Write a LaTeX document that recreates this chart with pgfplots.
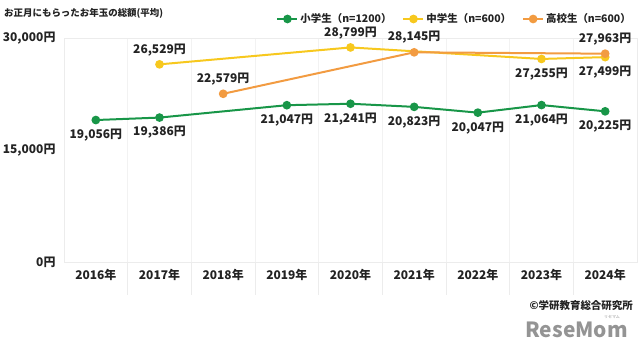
\documentclass[border=0pt]{standalone}
\usepackage{fontspec}
\setmainfont{Noto Sans CJK JP}
\usepackage{pgfplots}
\usepackage{pgfplotstable}
\pgfplotsset{compat=1.18}
\definecolor{cgreen}{RGB}{24,150,72}
\definecolor{cyellow}{RGB}{247,200,30}
\definecolor{corange}{RGB}{242,155,65}
\definecolor{ctext}{RGB}{35,35,35}
\definecolor{csep}{RGB}{236,236,236}

\pgfplotstableread{
x y
0 19056
1 19386
3 21047
4 21241
5 20823
6 20047
7 21064
8 20225
}\elem
\pgfplotstableread{
x y
1 26529
4 28799
7 27255
8 27499
}\middle
\pgfplotstableread{
x y
2 22579
5 28145
8 27963
}\high

\pgfplotsset{
  lbl/.style={
    nodes near coords={\pgfmathprintnumber[fixed,precision=0,1000 sep={,},assume math mode=true]{\pgfplotspointmeta}円},
    nodes near coords style={anchor=center, yshift=#1, text=ctext, font=\fontsize{12}{14}\selectfont\bfseries},
  },
}

\begin{document}
\begin{tikzpicture}
\useasboundingbox (0bp,0bp) rectangle (640bp,352bp);
\node[anchor=west, inner sep=0, text=ctext, font=\fontsize{9.5}{11}\selectfont\bfseries] at (4bp,339bp) {お正月にもらったお年玉の総額(平均)};
\begin{axis}[
  at={(64bp,90bp)}, anchor=south west,
  scale only axis, width=573bp, height=223.5bp,
  xmin=-0.5, xmax=8.5, ymin=0, ymax=30000,
  scaled y ticks=false,
  clip=false,
  axis line style={draw=csep},
  xtick={0,...,8},
  xticklabels={2016年,2017年,2018年,2019年,2020年,2021年,2022年,2023年,2024年},
  xtick pos=lower, ytick pos=left,
  major tick length=0pt,
  minor xtick={0.5,1.5,...,7.5},
  minor tick length=33bp,
  tick align=outside,
  minor x tick style={draw=csep, line width=1bp},
  xminorgrids, minor x grid style={draw=csep!70, line width=0.8bp},
  ytick={0,15000,30000},
  yticklabels={{0円},{15,000円},{30,000円}},
  ticklabel style={text=ctext, font=\fontsize{12}{14}\selectfont\bfseries},
  xticklabel style={yshift=-4bp},
  yticklabel style={xshift=-5bp},
  legend columns=3,
  legend style={draw=none, fill=none, inner sep=0pt, at={(1,1)}, anchor=east, xshift=-4bp, yshift=19.5bp,
    font=\fontsize{10.5}{12}\selectfont\bfseries, text=ctext,
    /tikz/every even column/.append style={column sep=9bp}},
  legend image code/.code={\draw[mark repeat=2,mark phase=2,#1] plot coordinates {(0bp,0bp) (10bp,0bp) (20bp,0bp)};},
  every axis plot/.append style={line width=2bp},
]
\addplot[color=cgreen, mark=*, mark size=3.3bp, mark options={solid, fill=cgreen, draw=cgreen}, point meta=y, lbl=-15bp] table[x=x, y=y] {\elem};
\addlegendentry{小学生（n=1200）}
\addplot[color=cyellow, mark=*, mark size=3.3bp, mark options={solid, fill=cyellow, draw=cyellow}] table[x=x, y=y] {\middle};
\addlegendentry{中学生（n=600）}
\addplot[color=corange, mark=*, mark size=3.3bp, mark options={solid, fill=corange, draw=corange}, point meta=y, lbl=15bp] table[x=x, y=y] {\high};
\addlegendentry{高校生（n=600）}
\addplot[draw=none, forget plot, point meta=y, lbl=14bp] coordinates {(1,26529) (4,28799)};
\addplot[draw=none, forget plot, point meta=y, lbl=-15bp] coordinates {(7,27255) (8,27499)};
\end{axis}
\node[anchor=east, inner sep=0, text=ctext, font=\fontsize{10.5}{12}\selectfont\bfseries] at (633bp,46bp) {©学研教育総合研究所};
\node[anchor=east, inner sep=0, text=black!42, font=\fontsize{21}{24}\selectfont\bfseries] at (628bp,22bp) {ReseMom};
\node[anchor=center, inner sep=0, text=black!42, font=\fontsize{4}{5}\selectfont] at (612bp,35bp) {リセマム};
\end{tikzpicture}
\end{document}
